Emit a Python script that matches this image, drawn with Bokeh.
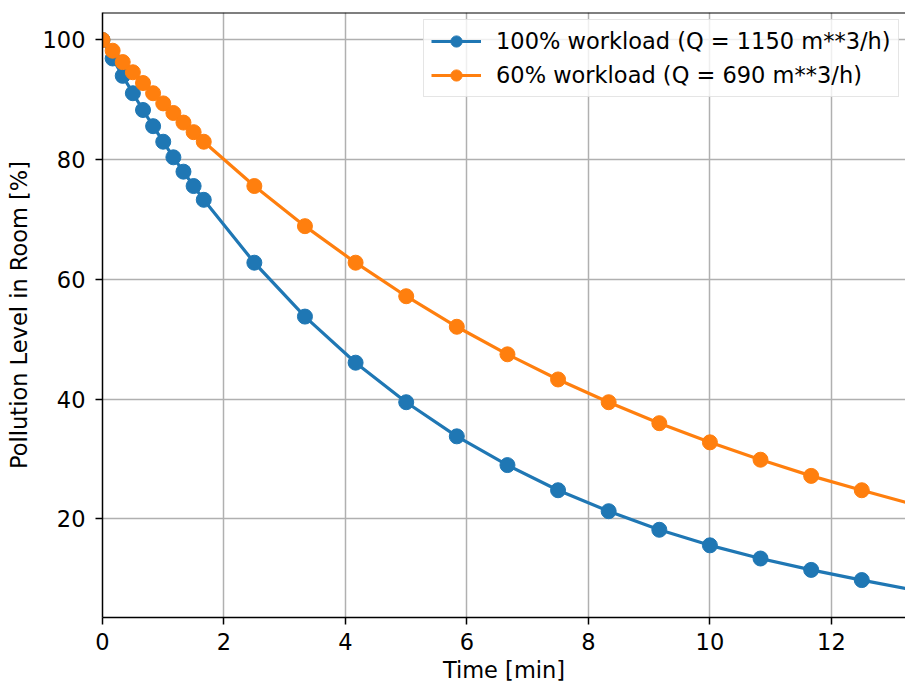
from bokeh.plotting import figure
from bokeh.models import Range1d, Span, Legend, LegendItem, FixedTicker
from bokeh.embed import file_html
from bokeh.resources import INLINE

# Data
t_points = [0, 0.167, 0.333, 0.5, 0.667, 0.833, 1.0, 1.167, 1.333, 1.5, 1.667,
            2.5, 3.333, 4.167, 5.0, 5.833, 6.667, 7.5, 8.333, 9.167, 10.0,
            10.833, 11.667, 12.5]
full_load = [100, 96.9, 94.0, 91.1, 88.3, 85.6, 83.0, 80.4, 78.0, 75.6, 73.3,
             62.8, 53.8, 46.1, 39.5, 33.8, 29.0, 24.8, 21.3, 18.2, 15.6,
             13.4, 11.5, 9.8]
part_load = [100, 98.2, 96.3, 94.6, 92.8, 91.1, 89.4, 87.8, 86.2, 84.6, 83.0,
             75.6, 68.9, 62.8, 57.2, 52.1, 47.5, 43.3, 39.5, 36.0, 32.8,
             29.9, 27.2, 24.8]
# curve continues past the last marker to the edge of the plot
t_end = 13.22
full_end = 8.4
part_end = 22.8

x_ticks = [0, 2, 4, 6, 8, 10, 12]
y_ticks = [20, 40, 60, 80, 100]

labels = ["100% workload (Q = 1150 m**3/h)", "60% workload (Q = 690 m**3/h)"]
colors = ["#1f77b4", "#ff7f0e"]

FONT = "DejaVu Sans"
FS = "22.5px"
Y_TOP = 104.58

p = figure(frame_width=803, frame_height=605, output_backend="svg",
           toolbar_location=None,
           x_range=Range1d(0, 13.22), y_range=Range1d(3.55, Y_TOP),
           min_border_left=102, min_border_top=12, min_border_right=0,
           min_border_bottom=60)
p.outline_line_color = None
p.background_fill_color = "white"
p.border_fill_color = "white"

items = []
for ys, y_end, c, lab in [(full_load, full_end, colors[0], labels[0]),
                          (part_load, part_end, colors[1], labels[1])]:
    r1 = p.line(t_points + [t_end], ys + [y_end], line_color=c, line_width=3.2)
    r2 = p.scatter(t_points, ys, marker="circle", size=15, fill_color=c,
                   line_color=c)
    items.append(LegendItem(label=lab, renderers=[r1, r2]))

legend = Legend(items=items, location=(321, 520))
legend.label_text_font = FONT
legend.label_text_font_size = FS
legend.label_text_color = "black"
legend.glyph_width = 50
legend.glyph_height = 28
legend.label_height = 28
legend.label_standoff = 15
legend.spacing = 6
legend.padding = 7
legend.margin = 0
legend.border_line_color = "#cccccc"
legend.border_line_width = 1.5
legend.background_fill_color = "white"
legend.background_fill_alpha = 0.8
p.add_layout(legend)

# top spine
p.add_layout(Span(location=Y_TOP, dimension="width", line_color="black",
                  line_width=2))

for ax in (p.xaxis[0], p.yaxis[0]):
    ax.axis_line_color = "black"
    ax.axis_line_width = 1.5
    ax.major_tick_in = 0
    ax.major_tick_out = 7
    ax.major_tick_line_width = 1.5
    ax.minor_tick_line_color = None
    ax.major_label_text_font = FONT
    ax.major_label_text_font_size = FS
    ax.major_label_text_color = "black"
    ax.axis_label_text_font = FONT
    ax.axis_label_text_font_size = FS
    ax.axis_label_text_font_style = "normal"
    ax.axis_label_text_color = "black"

p.xaxis[0].ticker = FixedTicker(ticks=x_ticks)
p.yaxis[0].ticker = FixedTicker(ticks=y_ticks)
p.xaxis[0].axis_label = "Time [min]"
p.yaxis[0].axis_label = "Pollution Level in Room [%]"
p.xaxis[0].major_label_standoff = 8
p.yaxis[0].major_label_standoff = 10
p.xaxis[0].axis_label_standoff = 4
p.yaxis[0].axis_label_standoff = 8

p.grid.grid_line_color = "#b0b0b0"
p.grid.grid_line_width = 1.5
p.xgrid.ticker = FixedTicker(ticks=x_ticks)
p.ygrid.ticker = FixedTicker(ticks=y_ticks)

open("out.html", "w").write(file_html(p, INLINE))
